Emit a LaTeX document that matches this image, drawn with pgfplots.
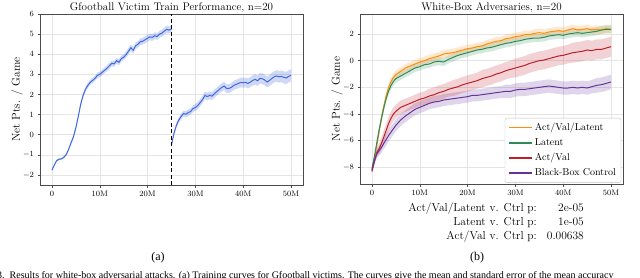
\documentclass[border=0pt]{standalone}
\usepackage{pgfplots}
\pgfplotsset{compat=1.18}
\usepackage{pgfplotstable}
\usepackage{fontspec}
\newfontfamily\capfont{Liberation Serif}
\definecolor{cblue}{RGB}{65,105,225}
\definecolor{corange}{RGB}{255,140,10}
\definecolor{cgreen}{RGB}{46,139,87}
\definecolor{cred}{RGB}{190,30,40}
\definecolor{cpurple}{RGB}{102,51,153}

\pgfplotstableread{
x y e
0 -1.76 0.04
0.5 -1.5 0.05
1 -1.28 0.05
1.5 -1.22 0.05
2 -1.2 0.05
2.5 -1.12 0.06
3 -0.98 0.06
3.5 -0.72 0.07
4 -0.4 0.08
4.5 -0.1 0.09
5 0.35 0.1
5.5 0.9 0.1
6 1.5 0.11
6.5 1.95 0.12
7 2.25 0.12
7.5 2.45 0.12
8 2.6 0.13
8.5 2.7 0.13
9 2.8 0.13
9.5 2.95 0.14
10 3.0 0.14
10.5 3.1 0.14
11 3.2 0.14
11.5 3.3 0.15
12 3.42 0.15
12.5 3.55 0.15
13 3.52 0.15
13.5 3.68 0.15
14 3.6 0.15
14.5 3.78 0.15
15 3.85 0.15
15.5 3.98 0.16
16 4.15 0.16
16.5 4.32 0.16
17 4.2 0.16
17.5 4.42 0.16
18 4.5 0.16
18.5 4.62 0.16
19 4.65 0.17
19.5 4.72 0.17
20 4.8 0.17
20.5 4.86 0.17
21 4.84 0.17
21.5 4.92 0.17
22 4.88 0.17
22.5 5.0 0.17
23 5.05 0.17
23.5 5.15 0.17
24 5.24 0.18
24.5 5.2 0.18
25 5.25 0.18
}\tabSegA

\pgfplotstableread{
x y e
25 -0.5 0.08
25.5 0.05 0.1
26 0.45 0.12
26.5 0.72 0.13
27 0.9 0.14
27.5 1.05 0.15
28 1.02 0.15
28.5 1.1 0.16
29 1.15 0.16
29.5 1.3 0.17
30 1.35 0.17
30.5 1.45 0.18
31 1.6 0.18
31.5 1.75 0.18
32 1.95 0.19
32.5 1.9 0.19
33 1.95 0.19
33.5 1.92 0.2
34 2.05 0.2
34.5 2.15 0.2
35 2.25 0.21
35.5 2.35 0.21
36 2.42 0.21
36.5 2.3 0.22
37 2.3 0.22
37.5 2.35 0.22
38 2.45 0.23
38.5 2.5 0.23
39 2.55 0.23
39.5 2.6 0.24
40 2.58 0.24
40.5 2.6 0.24
41 2.55 0.25
41.5 2.62 0.25
42 2.7 0.25
42.5 2.75 0.26
43 2.68 0.26
43.5 2.8 0.26
44 2.78 0.27
44.5 2.72 0.27
45 2.62 0.27
45.5 2.7 0.28
46 2.8 0.28
46.5 2.88 0.28
47 2.92 0.29
47.5 2.88 0.29
48 2.9 0.29
48.5 2.85 0.3
49 2.82 0.3
49.5 2.9 0.3
50 2.95 0.3
}\tabSegB

\pgfplotstableread{
x y e
0 -8.3 0.15
0.5 -7.4 0.2
1 -6.4 0.25
1.5 -5.3 0.3
2 -4.3 0.3
2.5 -3.4 0.3
3 -2.6 0.3
3.5 -2.0 0.3
4 -1.55 0.3
4.5 -1.25 0.3
5 -1.05 0.3
6 -0.8 0.3
7 -0.55 0.3
8 -0.4 0.3
9 -0.25 0.3
10 -0.1 0.3
11 0.0 0.3
12 0.15 0.3
13 0.25 0.3
14 0.35 0.3
15 0.5 0.3
16 0.55 0.3
17 0.6 0.3
18 0.7 0.3
19 0.8 0.3
20 0.9 0.3
21 0.95 0.3
22 1.05 0.3
23 1.1 0.3
24 1.25 0.3
25 1.35 0.3
26 1.45 0.3
27 1.5 0.3
28 1.65 0.3
29 1.7 0.3
30 1.8 0.3
31 1.85 0.3
32 1.95 0.3
33 1.95 0.3
34 2.05 0.3
35 2.1 0.3
36 2.05 0.3
37 2.15 0.3
38 2.2 0.3
39 2.25 0.3
40 2.2 0.3
41 2.3 0.3
42 2.4 0.3
43 2.3 0.3
44 2.35 0.3
45 2.4 0.3
46 2.3 0.3
47 2.35 0.3
48 2.3 0.3
49 2.4 0.3
50 2.35 0.3
}\tabAVL

\pgfplotstableread{
x y e
0 -8.1 0.15
0.5 -7.2 0.2
1 -6.2 0.25
1.5 -5.2 0.3
2 -4.3 0.3
2.5 -3.5 0.3
3 -2.8 0.3
3.5 -2.25 0.3
4 -1.85 0.3
4.5 -1.55 0.3
5 -1.35 0.3
6 -1.15 0.3
7 -0.95 0.3
8 -0.75 0.3
9 -0.55 0.3
10 -0.45 0.3
11 -0.3 0.3
12 -0.25 0.3
13 -0.1 0.3
14 -0.05 0.3
15 -0.1 0.3
16 0.1 0.3
17 0.25 0.3
18 0.4 0.3
19 0.5 0.3
20 0.6 0.3
21 0.7 0.3
22 0.8 0.3
23 0.85 0.3
24 0.95 0.3
25 1.0 0.3
26 1.1 0.3
27 1.2 0.3
28 1.3 0.3
29 1.35 0.3
30 1.45 0.3
31 1.5 0.3
32 1.6 0.3
33 1.65 0.3
34 1.7 0.3
35 1.7 0.3
36 1.75 0.3
37 1.85 0.3
38 1.9 0.3
39 1.95 0.3
40 1.9 0.3
41 2.0 0.3
42 2.05 0.3
43 2.1 0.3
44 2.05 0.3
45 2.1 0.3
46 2.15 0.3
47 2.2 0.3
48 2.3 0.3
49 2.35 0.3
50 2.35 0.3
}\tabLAT

\pgfplotstableread{
x y e
0 -8.3 0.15
0.5 -7.6 0.25
1 -6.9 0.35
1.5 -6.6 0.4
2 -6.2 0.45
2.5 -5.7 0.5
3 -5.2 0.5
3.5 -4.7 0.5
4 -4.3 0.5
4.5 -4.0 0.5
5 -3.8 0.5
6 -3.5 0.5
7 -3.35 0.5
8 -3.2 0.5
9 -3.05 0.5
10 -2.9 0.5
11 -2.8 0.5
12 -2.65 0.55
13 -2.55 0.55
14 -2.4 0.55
15 -2.3 0.55
16 -2.15 0.55
17 -2.05 0.6
18 -1.95 0.6
19 -1.8 0.6
20 -1.7 0.6
21 -1.6 0.6
22 -1.5 0.6
23 -1.35 0.65
24 -1.25 0.65
25 -1.15 0.65
26 -1.0 0.65
27 -0.9 0.65
28 -0.75 0.65
29 -0.65 0.65
30 -0.55 0.7
31 -0.45 0.7
32 -0.35 0.7
33 -0.2 0.7
34 -0.1 0.7
35 0.0 0.7
36 0.05 0.7
37 0.15 0.7
38 0.25 0.7
39 0.35 0.7
40 0.4 0.7
41 0.5 0.7
42 0.6 0.75
43 0.65 0.75
44 0.7 0.75
45 0.8 0.75
46 0.75 0.75
47 0.85 0.75
48 0.85 0.75
49 0.95 0.75
50 1.05 0.75
}\tabAV

\pgfplotstableread{
x y e
0 -8.2 0.15
0.5 -7.5 0.25
1 -7.0 0.3
1.5 -6.75 0.35
2 -6.5 0.4
2.5 -6.2 0.4
3 -5.9 0.45
3.5 -5.6 0.45
4 -5.35 0.45
4.5 -5.1 0.45
5 -4.85 0.45
6 -4.45 0.45
7 -4.15 0.45
8 -3.9 0.45
9 -3.65 0.45
10 -3.5 0.45
11 -3.35 0.45
12 -3.2 0.45
13 -3.1 0.45
14 -3.05 0.45
15 -2.95 0.45
16 -2.9 0.45
17 -2.85 0.45
18 -2.8 0.45
19 -2.75 0.45
20 -2.7 0.45
21 -2.6 0.45
22 -2.6 0.45
23 -2.55 0.45
24 -2.5 0.45
25 -2.45 0.45
26 -2.4 0.45
27 -2.35 0.45
28 -2.3 0.5
29 -2.3 0.5
30 -2.2 0.5
31 -2.15 0.5
32 -2.15 0.5
33 -2.1 0.5
34 -2.05 0.5
35 -2.0 0.5
36 -1.95 0.5
37 -1.9 0.5
38 -1.95 0.5
39 -2.0 0.5
40 -2.05 0.5
41 -2.05 0.5
42 -2.0 0.5
43 -2.05 0.5
44 -2.0 0.5
45 -2.05 0.5
46 -1.95 0.5
47 -1.85 0.55
48 -1.8 0.55
49 -1.7 0.55
50 -1.6 0.55
}\tabBBC

% band polygons: upper edge forward, lower edge backward
\newcommand{\mkband}[3]{%
  \pgfplotstablesort[sort key=x, sort cmp=float <]{#1}{#3}%
  \pgfplotstablecreatecol[create col/expr={\thisrow{y}+\thisrow{e}}]{b}{#1}%
  \pgfplotstablesort[sort key=x, sort cmp=float >]{#2}{#3}%
  \pgfplotstablecreatecol[create col/expr={\thisrow{y}-\thisrow{e}}]{b}{#2}%
  \pgfplotstablevertcat{#1}{#2}%
}
\mkband{\bandSegA}{\lowSegA}{\tabSegA}
\mkband{\bandSegB}{\lowSegB}{\tabSegB}
\mkband{\bandAVL}{\lowAVL}{\tabAVL}
\mkband{\bandLAT}{\lowLAT}{\tabLAT}
\mkband{\bandAV}{\lowAV}{\tabAV}
\mkband{\bandBBC}{\lowBBC}{\tabBBC}

\pgfplotsset{
  every axis title shift=0pt,
  common/.style={
    scale only axis,
    anchor=south west,
    width=263pt,
    xmin=-2.5, xmax=52.5,
    xtick={0,10,20,30,40,50},
    xticklabels={0,10M,20M,30M,40M,50M},
    grid=major,
    grid style={black!10, line width=0.5pt},
    axis line style={black!70, line width=0.8pt},
    tick align=outside,
    major tick length=2.5pt,
    tick style={black!70, line width=0.5pt},
    xtick pos=bottom, ytick pos=left,
    tick label style={font=\fontsize{8}{9}\selectfont},
    title style={at={(0.5,1)}, anchor=base, yshift=4pt, font=\fontsize{11}{13}\selectfont},
    ylabel style={at={(axis description cs:-0.087,0.5)}, anchor=center, font=\fontsize{11.5}{13}\selectfont},
    ylabel={Net Pts. / Game},
  },
}

\begin{document}
\begin{tikzpicture}

\begin{axis}[common, at={(40pt,92pt)}, height=171pt,
  ymin=-2.5, ymax=6, ytick={-2,-1,0,1,2,3,4,5,6},
  title={Gfootball Victim Train Performance, n=20}]
\addplot[draw=none, fill=cblue, fill opacity=0.25, forget plot] table[x=x, y=b] {\bandSegA};
\addplot[draw=none, fill=cblue, fill opacity=0.25, forget plot] table[x=x, y=b] {\bandSegB};
\addplot[cblue, line width=1pt] table[x=x, y=y] {\tabSegA};
\addplot[cblue, line width=1pt] table[x=x, y=y] {\tabSegB};
\addplot[black, line width=1.2pt, dash pattern=on 4pt off 2.5pt] coordinates {(25,-2.5) (25,6)};
\end{axis}

\begin{axis}[common, at={(360pt,93pt)}, height=170pt,
  ymin=-9.25, ymax=3.5, ytick={-8,-6,-4,-2,0,2},
  title={White-Box Adversaries, n=20},
  legend style={at={(0.993,0.008)}, anchor=south east, font=\fontsize{10}{12}\selectfont,
    draw=black!25, fill=white, rounded corners=2pt, row sep=2.5pt,
    inner xsep=3pt, inner ysep=3pt},
  legend cell align=left,
  legend image code/.code={\draw[#1, line width=1.8pt] (0pt,0pt) -- (23pt,0pt);}]
\addplot[draw=none, fill=cpurple, fill opacity=0.2, forget plot] table[x=x, y=b] {\bandBBC};
\addplot[draw=none, fill=cred, fill opacity=0.2, forget plot] table[x=x, y=b] {\bandAV};
\addplot[draw=none, fill=cgreen, fill opacity=0.2, forget plot] table[x=x, y=b] {\bandLAT};
\addplot[draw=none, fill=corange, fill opacity=0.2, forget plot] table[x=x, y=b] {\bandAVL};
\addplot[corange, line width=1pt] table[x=x, y=y] {\tabAVL};
\addlegendentry{Act/Val/Latent}
\addplot[cgreen, line width=1pt] table[x=x, y=y] {\tabLAT};
\addlegendentry{Latent}
\addplot[cred, line width=1pt] table[x=x, y=y] {\tabAV};
\addlegendentry{Act/Val}
\addplot[cpurple, line width=1pt] table[x=x, y=y] {\tabBBC};
\addlegendentry{Black-Box Control}
\end{axis}

\begin{scope}[every node/.style={inner sep=0pt, font=\fontsize{11.5}{13}\selectfont}]
\node[anchor=base east] at (537pt,66pt) {Act/Val/Latent v. Ctrl p:};
\node[anchor=base east] at (537pt,52pt) {Latent v. Ctrl p:};
\node[anchor=base east] at (537pt,38pt) {Act/Val v. Ctrl p:};
\node[anchor=base east] at (584pt,66pt) {2e-05};
\node[anchor=base east] at (584pt,52pt) {1e-05};
\node[anchor=base east] at (584pt,38pt) {0.00638};
\end{scope}

\node[anchor=base, inner sep=0pt, font=\capfont\fontsize{12}{14}\selectfont] at (158pt,17pt) {(a)};
\node[anchor=base, inner sep=0pt, font=\capfont\fontsize{12}{14}\selectfont] at (477pt,17pt) {(b)};
\node[anchor=base west, inner sep=0pt, font=\capfont\fontsize{10}{12}\selectfont] at (-3pt,-1.5pt) {3.\ \ Results for white-box adversarial attacks. (a) Training curves for Gfootball victims. The curves give the mean and standard error of the mean accuracy};

\pgfresetboundingbox
\path[use as bounding box] (0pt,0pt) rectangle (640pt,277pt);
\end{tikzpicture}
\end{document}
